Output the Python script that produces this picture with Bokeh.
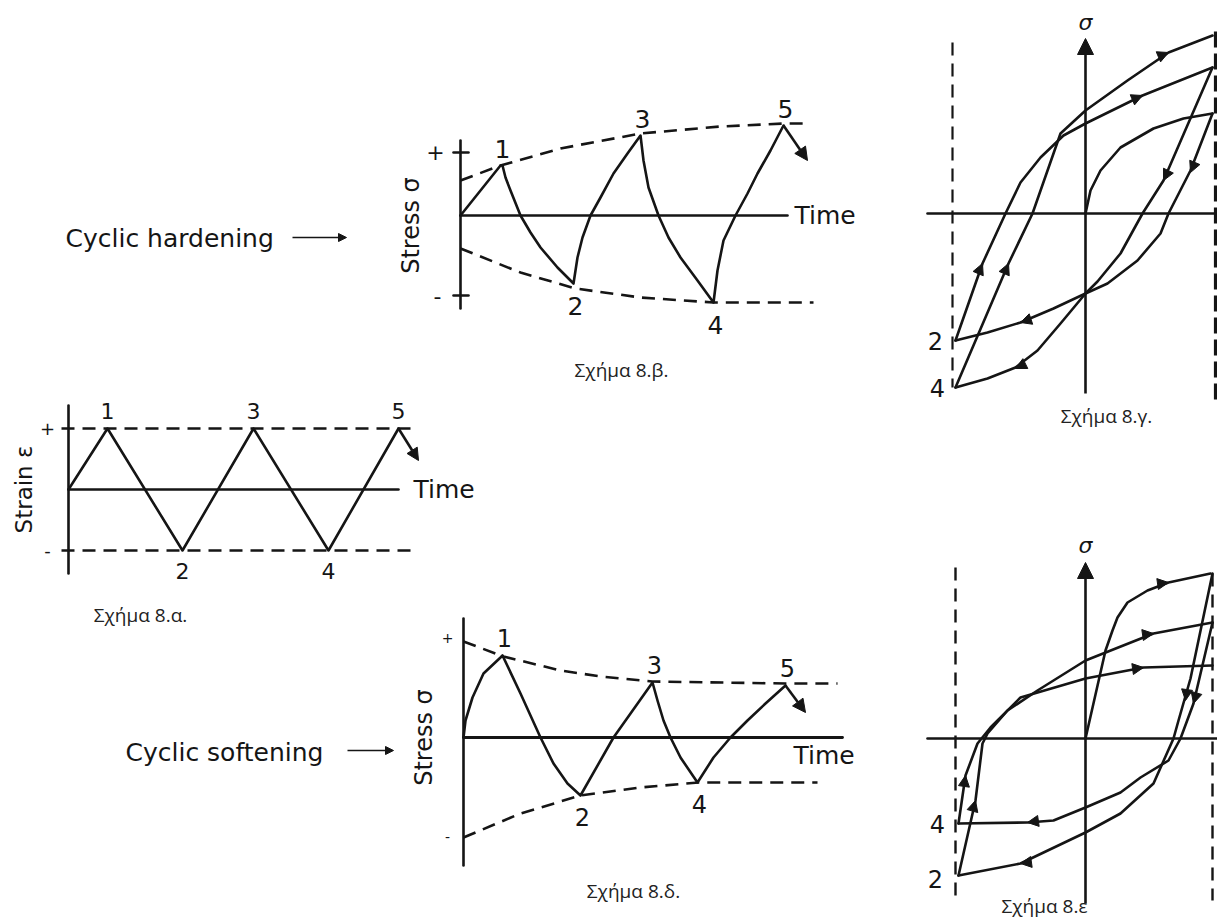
import math
from bokeh.plotting import figure
from bokeh.models import Arrow, NormalHead, Range1d
from bokeh.core.properties import value
from bokeh.embed import file_html
from bokeh.resources import INLINE

# ---------------- DATA (local units of each panel: time / strain / stress) ----------------
# Fig 8.a  strain-controlled history
a_t = [0, 39, 114, 185, 260, 330]
a_eps = [0, 61, -61, 61, -61, 61]
a_eps_max, a_eps_min = 61, -61
a_peak_labels = ["1", "2", "3", "4", "5"]

# Fig 8.b  cyclic hardening: stress vs time
b_t = [0, 40, 42, 45, 50, 60, 70, 80, 97, 113, 117, 122, 130, 140, 153, 167, 180,
       183, 188, 198, 208, 220, 237, 253, 257, 263, 275, 287, 297, 310, 323]
b_sig = [0, 50, 50, 38, 25, 0, -17, -32, -52, -68, -42, -22, 0, 18, 42, 62, 80,
         55, 28, 0, -22, -42, -65, -87, -55, -25, 0, 22, 42, 65, 90]
b_up_t = [0, 40, 100, 180, 260, 323, 347]
b_up_sig = [35, 50, 67, 82, 89, 92, 92]
b_lo_t = [0, 60, 115, 180, 253, 353]
b_lo_sig = [-33, -57, -73, -82, -87, -87]

# Fig 8.d  cyclic softening: stress vs time
d_t = [0, 2, 9, 20, 37, 39, 57, 77, 90, 104, 117, 150, 189, 194, 200, 207, 217, 234,
       250, 267, 284, 302, 322]
d_sig = [0, 17, 40, 64, 80, 82, 44, 0, -26, -46, -58, 0, 55, 37, 17, 0, -20, -45,
         -20, 0, 17, 34, 52]
d_up_t = [0, 40, 97, 137, 189, 322, 374]
d_up_sig = [96, 81, 67, 61, 56, 54, 54]
d_lo_t = [0, 57, 117, 177, 235, 354]
d_lo_sig = [-100, -76, -58, -50, -45, -45]

# Fig 8.c  hardening hysteresis loops: strain vs stress
c_load_eps = [0, 5, 15, 35, 68, 98, 127]
c_load_sig = [0, 23, 43, 66, 85, 95, 100]
c_u12_eps = [127, 105, 83, 75, 52, 22, 0, -32, -65, -98, -130]
c_u12_sig = [100, 43, 0, -20, -47, -70, -80, -95, -109, -119, -127]
c_r23_eps = [-130, -103, -80, -65, -45, -22, 0, 57, 127]
c_r23_sig = [-127, -50, 0, 31, 56, 78, 90, 118, 146]
c_u34_eps = [127, 78, 57, 35, 12, 0, -25, -48, -70, -98, -130]
c_u34_sig = [146, 33, 0, -40, -68, -80, -110, -137, -154, -165, -174]
c_r45_eps = [-130, -77, -53, -25, 0, 42, 83, 127]
c_r45_sig = [-174, -50, 0, 80, 103, 133, 161, 178]
c_eps_lim = [-133, 130]

# Fig 8.e  softening hysteresis loops: strain vs stress
e_load_eps = [0, 20, 27, 32, 42, 62, 83, 125]
e_load_sig = [0, 88, 108, 121, 136, 148, 156, 165]
e_u12_eps = [127, 105, 93, 88, 68, 35, 0, -65, -127]
e_u12_sig = [165, 60, 18, 0, -45, -75, -94, -125, -137]
e_r23_eps = [-127, -110, -103, -98, -78, -48, 0, 68, 127]
e_r23_sig = [-137, -62, -5, 5, 28, 48, 78, 105, 116]
e_u34_eps = [127, 108, 95, 83, 55, 35, 0, -32, -58, -127]
e_u34_sig = [116, 35, 0, -22, -39, -54, -69, -82, -84, -85]
e_r45_eps = [-127, -120, -108, -95, -65, 0, 58, 127]
e_r45_sig = [-85, -37, -5, 11, 41, 60, 71, 73]
e_eps_lim = [-130, 127]

# ---------------- LAYOUT / STYLE ----------------
INK = "#151515"
FONT = "DejaVu Sans"
CAP_FONT = "Open Sans"
CAP_SIZE = "19px"
LW = 2.6
DASH = "13 8"
ORIGIN = {"a": (68, 489), "b": (460, 215), "c": (1085, 213), "d": (463, 737), "e": (1085, 738)}
W, H = 1217, 917

p = figure(width=W, height=H, x_range=Range1d(0, W), y_range=Range1d(-H, 0),
           output_backend="svg", toolbar_location=None, min_border=0,
           x_axis_location=None, y_axis_location=None)
p.grid.visible = False
p.outline_line_color = None
p.background_fill_color = "white"
p.border_fill_color = "white"


def T(panel, xs, ys):
    x0, y0 = ORIGIN[panel]
    return [x0 + x for x in xs], [y - y0 for y in ys]


def curve(panel, xs, ys, dash=None, width=LW):
    X, Y = T(panel, xs, ys)
    kw = dict(line_color=INK, line_width=width, line_join="round", line_cap="round")
    if dash:
        kw["line_dash"] = dash
        kw["line_cap"] = "butt"
    p.line(X, Y, **kw)


def label(panel, x, y, s, size="25px", font=FONT, angle=0.0, align="center", style="normal"):
    X, Y = T(panel, [x], [y])
    p.text(x=X, y=Y, text=[s], text_font=value(font), text_font_size=size, text_align=align,
           text_baseline="middle", angle=angle, text_color=INK, text_font_style=style)


def arrow(panel, x0, y0, x1, y1, size=11, width=0.0):
    X, Y = T(panel, [x0, x1], [y0, y1])
    p.add_layout(Arrow(x_start=X[0], y_start=Y[0], x_end=X[1], y_end=Y[1],
                       line_color=INK, line_width=width if width else 1,
                       line_alpha=1 if width else 0,
                       end=NormalHead(size=size, fill_color=INK, line_color=INK, line_width=1)))


def page_text(x, y, s, size, font=FONT, align="left", color=INK):
    p.text(x=[x], y=[-y], text=[s], text_font=value(font), text_font_size=size,
           text_align=align, text_baseline="middle", text_color=color)


# ---------------- Fig 8.a ----------------
curve("a", [0, 0], [84, -84])
curve("a", [0, 330], [0, 0])
curve("a", [-7, 345], [a_eps_max, a_eps_max], dash=DASH)
curve("a", [-7, 349], [a_eps_min, a_eps_min], dash=DASH)
curve("a", a_t, a_eps)
arrow("a", a_t[-1], a_eps[-1], a_t[-1] + 20, a_eps[-1] - 32, size=12, width=LW)
for i, s in enumerate(a_peak_labels):
    off = 18 if a_eps[i + 1] > 0 else -20
    label("a", a_t[i + 1], a_eps[i + 1] + off, s, size="22px")
label("a", -21, a_eps_max, "+", size="18px")
label("a", -21, a_eps_min, "-", size="18px")
label("a", 345, 0, "Time", align="left", size="25px")
label("a", -45, 0, "Strain \u03b5", angle=math.pi / 2, size="23px")
page_text(140, 614, "\u03a3\u03c7\u03ae\u03bc\u03b1 8.\u03b1.", CAP_SIZE, font=CAP_FONT, align="center", color="#222")

# ---------------- Fig 8.b ----------------
curve("b", [0, 0], [75, -93])
curve("b", [0, 327], [0, 0])
curve("b", [-7, 8], [63, 63])
curve("b", [-7, 8], [-80, -80])
curve("b", b_up_t, b_up_sig, dash=DASH)
curve("b", b_lo_t, b_lo_sig, dash=DASH)
curve("b", b_t, b_sig)
arrow("b", b_t[-1], b_sig[-1], b_t[-1] + 24, b_sig[-1] - 35, size=13, width=LW)
b_peaks = [(40, 50), (113, -68), (180, 80), (253, -87), (323, 90)]
for (tx, sy), s in zip(b_peaks, a_peak_labels):
    label("b", tx + 2, sy + (17 if sy > 0 else -22), s, size="25px")
label("b", -25, 64, "+", size="22px")
label("b", -23, -80, "-", size="22px")
label("b", 334, 0, "Time", align="left", size="25px")
label("b", -50, -10, "Stress \u03c3", angle=math.pi / 2, size="24px")
page_text(621, 369, "\u03a3\u03c7\u03ae\u03bc\u03b1 8.\u03b2.", CAP_SIZE, font=CAP_FONT, align="center", color="#222")
page_text(65, 238, "Cyclic hardening", "25px")
p.add_layout(Arrow(x_start=292, y_start=-237, x_end=346, y_end=-237, line_color=INK, line_width=1.6,
                   end=NormalHead(size=8, fill_color=INK, line_color=INK)))

# ---------------- Fig 8.d ----------------
curve("d", [0, 0], [119, -128])
curve("d", [0, 379], [0, 0], width=2.8)
curve("d", d_up_t, d_up_sig, dash=DASH)
curve("d", d_lo_t, d_lo_sig, dash=DASH)
curve("d", d_t, d_sig)
arrow("d", d_t[-1], d_sig[-1], d_t[-1] + 20, d_sig[-1] - 27, size=13, width=LW)
d_peaks = [(39, 82), (117, -58), (189, 55), (234, -45), (322, 52)]
for (tx, sy), s in zip(d_peaks, a_peak_labels):
    label("d", tx + 2, sy + (18 if sy > 0 else -21), s, size="24px")
label("d", -16, 100, "+", size="14px")
label("d", -16, -99, "-", size="14px")
label("d", 330, -18, "Time", align="left", size="25px")
label("d", -40, 0, "Stress \u03c3", angle=math.pi / 2, size="24px")
page_text(633, 890, "\u03a3\u03c7\u03ae\u03bc\u03b1 8.\u03b4.", CAP_SIZE, font=CAP_FONT, align="center", color="#222")
page_text(125, 752, "Cyclic softening", "25px")
p.add_layout(Arrow(x_start=347, y_start=-750, x_end=393, y_end=-750, line_color=INK, line_width=1.6,
                   end=NormalHead(size=8, fill_color=INK, line_color=INK)))

# ---------------- Fig 8.c ----------------
curve("c", [-158, 132], [0, 0])
arrow("c", 0, -180, 0, 175, size=16, width=LW)
curve("c", [c_eps_lim[0], c_eps_lim[0]], [171, -174], dash=DASH, width=2.2)
curve("c", [c_eps_lim[1], c_eps_lim[1]], [182, -192], dash="16 6", width=3.2)
curve("c", c_load_eps, c_load_sig)
curve("c", c_u12_eps, c_u12_sig)
curve("c", c_r23_eps, c_r23_sig)
curve("c", c_u34_eps, c_u34_sig)
curve("c", c_r45_eps, c_r45_sig)
for a in [(108, 48, 105, 41), (-59, -107, -65, -109), (81, 39, 78, 33), (-64, -152, -70, -155),
          (-106, -57, -103, -50), (50, 115, 57, 118), (-80, -57, -77, -50), (76, 158, 83, 161)]:
    arrow("c", *a)
label("c", 0, 191, "\u03c3", size="22px", style="italic")
label("c", -150, -127, "2", size="24px")
label("c", -148, -174, "4", size="24px")
page_text(1106, 415, "\u03a3\u03c7\u03ae\u03bc\u03b1 8.\u03b3.", CAP_SIZE, font=CAP_FONT, align="center", color="#222")

# ---------------- Fig 8.e ----------------
curve("e", [-158, 132], [0, 0])
arrow("e", 0, -165, 0, 176, size=16, width=LW)
curve("e", [e_eps_lim[0], e_eps_lim[0]], [171, -162], dash=DASH, width=2.4)
curve("e", [e_eps_lim[1], e_eps_lim[1]], [165, -162], dash=DASH, width=2.4)
curve("e", e_load_eps, e_load_sig)
curve("e", e_u12_eps, e_u12_sig)
curve("e", e_r23_eps, e_r23_sig)
curve("e", e_u34_eps, e_u34_sig)
curve("e", e_r45_eps, e_r45_sig)
for a in [(76, 155, 83, 156), (-112, -69, -110, -62), (61, 104, 68, 105), (-121, -44, -120, -37),
          (51, 70, 58, 71), (101, 45, 100, 38), (-58, -124, -65, -125), (110, 42, 108, 35),
          (-51, -83, -58, -84)]:
    arrow("e", *a)
label("e", 0, 193, "\u03c3", size="22px", style="italic")
label("e", -148, -85, "4", size="24px")
label("e", -150, -140, "2", size="24px")
page_text(1044, 905, "\u03a3\u03c7\u03ae\u03bc\u03b1 8.\u03b5", CAP_SIZE, font=CAP_FONT, align="center", color="#222")

open("out.html", "w").write(file_html(p, INLINE))
